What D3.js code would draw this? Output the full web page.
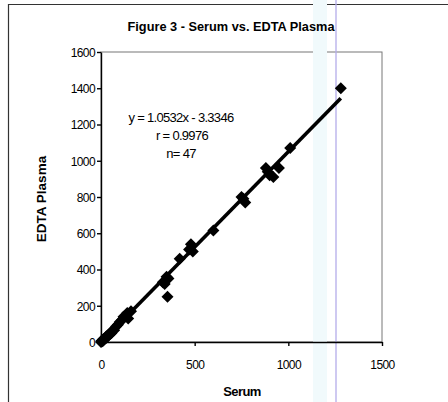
<!DOCTYPE html>
<html><head><meta charset="utf-8">
<script src="https://cdn.jsdelivr.net/npm/d3@7/dist/d3.min.js"></script>
<style>body{margin:0;background:#fff}svg{display:block}text{font-family:"Liberation Sans",Arial,sans-serif;fill:#000}</style>
</head><body>
<script>
const serum = [0,2,5,8,10,12,15,18,20,25,28,30,35,40,45,50,55,60,70,80,90,100,110,120,140,145,160,
  330,340,350,355,360,420,470,480,490,600,
  750,760,770,880,890,900,920,950,1010,1280];
const plasma = [0,5,3,10,6,15,12,20,18,22,30,25,35,38,40,52,48,60,65,85,95,110,120,140,160,130,170,
  330,320,360,250,350,460,510,540,500,615,
  800,790,770,960,940,920,910,960,1070,1400];
const xTicks = [0,500,1000,1500];
const yTicks = [0,200,400,600,800,1000,1200,1400,1600];
const slope = 1.0532, intercept = -3.3346;
const statLines = ["y = 1.0532x - 3.3346","r = 0.9976","n= 47"];
const title = "Figure 3 - Serum vs. EDTA Plasma";

const W=448,H=402;
const svg=d3.select("body").append("svg").attr("width",W).attr("height",H);
svg.append("rect").attr("width",W).attr("height",H).attr("fill","#fff");
// outer frame
svg.append("path").attr("d","M8.5,402V4.5H448").attr("fill","none").attr("stroke","#333").attr("stroke-width",1.2);

const x=d3.scaleLinear().domain([0,1500]).range([101,382]);
const y=d3.scaleLinear().domain([0,1600]).range([342,52]);

// plot area border
svg.append("rect").attr("x",101).attr("y",52).attr("width",281).attr("height",290)
  .attr("fill","none").attr("stroke","#777").attr("stroke-width",1);

// scan artifacts
svg.append("rect").attr("x",313).attr("y",0).attr("width",14).attr("height",H).attr("fill","#f1fafc");
svg.append("line").attr("x1",336).attr("x2",336).attr("y1",0).attr("y2",H).attr("stroke","#b4acea").attr("stroke-width",1.3);

const xa=svg.append("g").attr("transform","translate(0,342)")
  .call(d3.axisBottom(x).tickValues(xTicks).tickSize(4).tickSizeOuter(0).tickFormat(d3.format("d")));
const ya=svg.append("g").attr("transform","translate(101,0)")
  .call(d3.axisLeft(y).tickValues(yTicks).tickSize(4).tickSizeOuter(0).tickFormat(d3.format("d")));
[xa,ya].forEach(a=>{a.selectAll("path,line").attr("stroke","#000").attr("stroke-width",1.4);
  a.selectAll("text").attr("font-size",12).attr("font-family","'Liberation Sans',Arial,sans-serif").attr("letter-spacing","-0.6");});
xa.selectAll("text").attr("dy","0").attr("y",27);
ya.selectAll("text").attr("x",-6).attr("dy","0.36em");

// trendline
const xmin=d3.min(serum), xmax=d3.max(serum);
svg.append("line").attr("x1",x(xmin)).attr("y1",y(slope*xmin+intercept))
  .attr("x2",x(xmax)).attr("y2",y(slope*xmax+intercept))
  .attr("stroke","#000").attr("stroke-width",3.6);

// markers
const pts=serum.map((s,i)=>[s,plasma[i]]);
svg.append("g").selectAll("path").data(pts).join("path")
  .attr("transform",d=>`translate(${x(d[0])},${y(d[1])})`)
  .attr("d","M0,-6L6,0L0,6L-6,0Z").attr("fill","#000");

// title
svg.append("text").attr("x",231).attr("y",31).attr("text-anchor","middle")
  .attr("font-size",12.5).attr("font-weight","bold").attr("textLength",207).attr("lengthAdjust","spacingAndGlyphs").text(title);

// stats
const sy=[122,140,158], sx=[181,182,181];
statLines.forEach((t,i)=>svg.append("text").attr("x",sx[i]).attr("y",sy[i]).attr("text-anchor","middle")
  .attr("font-size",13).attr("letter-spacing","-0.7").text(t));

// axis titles
svg.append("text").attr("x",242).attr("y",396).attr("text-anchor","middle").attr("font-size",13).attr("font-weight","bold").attr("letter-spacing","-0.6").text("Serum");
svg.append("text").attr("transform","translate(46,199) rotate(-90)").attr("text-anchor","middle").attr("font-size",13.5).attr("font-weight","bold").text("EDTA Plasma");
</script>
</body></html>
